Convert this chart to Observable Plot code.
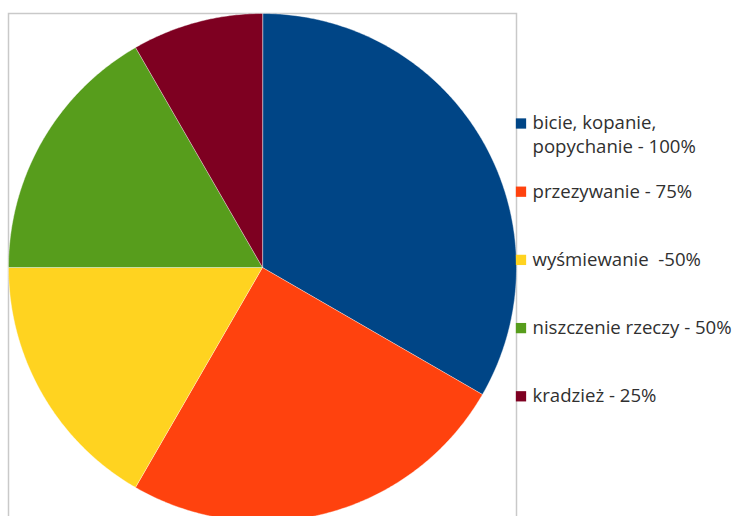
<!DOCTYPE html>
<html><head><meta charset="utf-8">
<script src="https://cdn.jsdelivr.net/npm/d3@7"></script>
<script src="https://cdn.jsdelivr.net/npm/@observablehq/plot@0.6"></script>
<style>
html,body{margin:0;padding:0;background:#fff;overflow:hidden}
#chart text{white-space:pre}
</style>
</head><body><div id="chart"></div>
<script>
// ---- data ----
const categories = ["bicie, kopanie,\npopychanie - 100%", "przezywanie - 75%", "wyśmiewanie  -50%", "niszczenie rzeczy - 50%", "kradzież - 25%"];
const values = [100, 75, 50, 50, 25];
const colors = ["#004586", "#ff420e", "#ffd320", "#579d1c", "#7e0021"];

// ---- layout (pixels) ----
const W = 734, H = 516;
const cx = 262, cy = 267, R = 254;
const legendY0 = 123, legendStep = 68.2, lineStep = 24;

const data = categories.map((c, i) => ({key: c, value: values[i]}));

// pie wedges as closed polygons in unit-circle data space (clockwise from top)
const arcs = d3.pie().sort(null).value(d => d.value)(data);
const pts = [];
for (const a of arcs) {
  pts.push({key: a.data.key, x: 0, y: 0});
  const n = Math.max(2, Math.ceil((a.endAngle - a.startAngle) / (Math.PI / 360)));
  for (let i = 0; i <= n; i++) {
    const t = a.startAngle + (a.endAngle - a.startAngle) * i / n;
    pts.push({key: a.data.key, x: Math.sin(t), y: Math.cos(t)});
  }
}

// legend rows (pixel y converted into data units of the y scale)
const toY = py => (cy - py) / R;
const legendSquares = categories.map((c, i) => ({key: c, y: toY(legendY0 + i * legendStep)}));
const legendLines = [];
categories.forEach((c, i) => {
  c.split("\n").forEach((line, j) => {
    legendLines.push({text: line, y: toY(legendY0 + i * legendStep + j * lineStep)});
  });
});

const chart = Plot.plot({
  width: W,
  height: H,
  marginLeft: cx - R,
  marginRight: W - (cx + R),
  marginTop: cy - R,
  marginBottom: H - (cy + R),
  x: {domain: [-1, 1], axis: null},
  y: {domain: [-1, 1], axis: null},
  color: {domain: categories, range: colors},
  style: {fontFamily: "'Open Sans', sans-serif", background: "#fff", overflow: "visible"},
  marks: [
    Plot.frame({stroke: "#c9c9c9", strokeWidth: 1.5}),
    Plot.line(pts, {x: "x", y: "y", z: "key", fill: "key", stroke: "#ffffff", strokeWidth: 0.8, strokeOpacity: 0.5, curve: "linear-closed"}),
    Plot.dot(legendSquares, {x: 1, y: "y", dx: 4.5, symbol: "square", r: 5.8, fill: "key", stroke: null}),
    Plot.text(legendLines, {x: 1, y: "y", dx: 16, text: "text", textAnchor: "start", lineAnchor: "middle", fontSize: 18.6, fill: "#303030"})
  ]
});
document.getElementById("chart").appendChild(chart);
</script>
</body></html>
